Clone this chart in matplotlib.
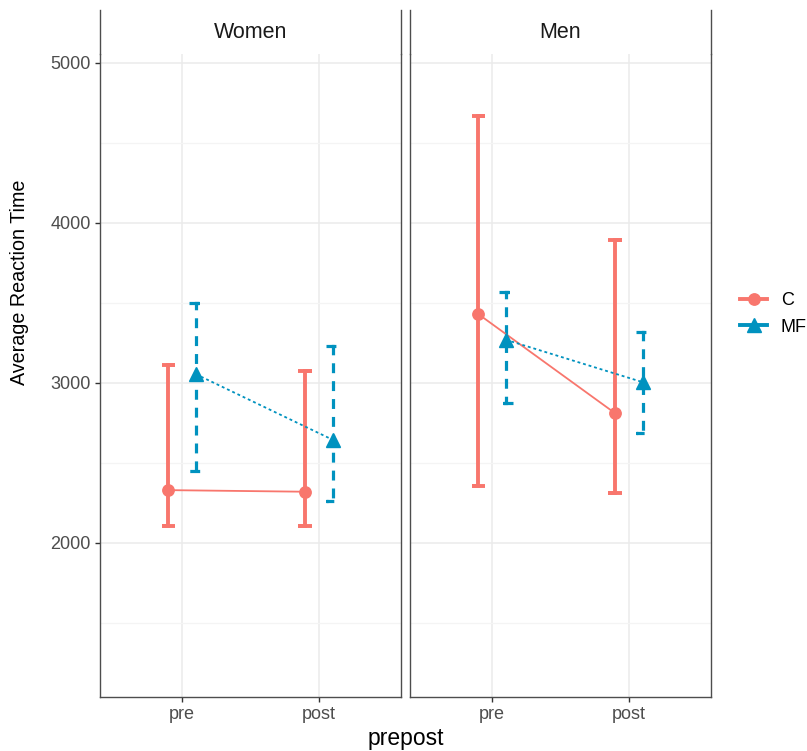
import numpy as np
import matplotlib
matplotlib.use("Agg")
import matplotlib.pyplot as plt
from matplotlib.lines import Line2D

plt.rcParams["font.family"] = ["Liberation Sans", "DejaVu Sans"]

# ── DATA ──────────────────────────────────────────────────────────────────────
panels = ["Women", "Men"]
timepoints = ["pre", "post"]
groups = ["C", "MF"]

# means and error bar limits, per panel -> per group -> [pre, post]
mean_women_c = [2330, 2320]
low_women_c = [2105, 2105]
high_women_c = [3110, 3075]
mean_women_mf = [3055, 2645]
low_women_mf = [2450, 2260]
high_women_mf = [3500, 3230]

mean_men_c = [3430, 2810]
low_men_c = [2355, 2310]
high_men_c = [4670, 3895]
mean_men_mf = [3270, 3005]
low_men_mf = [2875, 2690]
high_men_mf = [3570, 3320]

yticks = [2000, 3000, 4000, 5000]
yminor = [1500, 2500, 3500, 4500]

# ── STYLE ─────────────────────────────────────────────────────────────────────
COL = {"C": "#F8766D", "MF": "#0092BF"}
MARK = {"C": "o", "MF": "^"}
MSIZE = {"C": 8.2, "MF": 10}
DODGE = {"C": -0.1, "MF": 0.1}
BORDER = "#4D4D4D"
GRID = "#EBEBEB"

data = {
    "Women": {"C": (mean_women_c, low_women_c, high_women_c),
              "MF": (mean_women_mf, low_women_mf, high_women_mf)},
    "Men": {"C": (mean_men_c, low_men_c, high_men_c),
            "MF": (mean_men_mf, low_men_mf, high_men_mf)},
}

W, H = 807, 751
fig = plt.figure(figsize=(W / 100, H / 100), dpi=100)

lefts = [100, 410]
pw = 301
top, bottom, strip_top = 54, 697, 10


def draw_errorbar(ax, x, lo, hi, color, dashed):
    # path in the order ggplot draws it: top cap, down the stem, bottom cap
    hw = 0.05
    xs = [x - hw, x + hw, x, x, x - hw, x + hw]
    ys = [hi, hi, hi, lo, lo, lo]
    ln, = ax.plot(xs, ys, color=color, lw=2.3 if dashed else 2.8,
                  solid_capstyle="butt", solid_joinstyle="miter", zorder=3)
    if dashed:
        ln.set_linestyle((0, (3.1, 2.5)))
        ln.set_dash_capstyle("butt")
        ln.set_dash_joinstyle("miter")


for pi, panel in enumerate(panels):
    ax = fig.add_axes([lefts[pi] / W, 1 - bottom / H, pw / W, (bottom - top) / H])
    ax.set_xlim(0.4, 2.6)
    ax.set_ylim(1037, 5056)
    ax.set_xticks([1, 2])
    ax.set_xticklabels(timepoints)
    ax.set_yticks(yticks)
    ax.set_yticks(yminor, minor=True)
    ax.grid(True, which="major", color=GRID, lw=1.1)
    ax.grid(True, which="minor", axis="y", color="#F4F4F4", lw=0.9)
    ax.set_axisbelow(True)
    ax.spines["top"].set_visible(False)
    for sp in ax.spines.values():
        sp.set_color(BORDER)
        sp.set_linewidth(1.0)
    ax.tick_params(axis="both", which="major", length=3.5, width=1.0,
                   color="#333333", labelcolor="#4D4D4D", labelsize=13, pad=3)
    ax.tick_params(axis="y", which="minor", length=0)
    if pi != 0:
        ax.tick_params(axis="y", which="both", left=False, labelleft=False)

    for g in groups:
        mean, lo, hi = data[panel][g]
        xs = np.arange(1, len(timepoints) + 1) + DODGE[g]
        dashed = g == "MF"
        for x, l, h in zip(xs, lo, hi):
            draw_errorbar(ax, x, l, h, COL[g], dashed)
        ax.plot(xs, mean, color=COL[g], lw=1.3,
                ls=(0, (1.6, 1.6)) if dashed else "-", zorder=4)
        ax.plot(xs, mean, ls="none", marker=MARK[g], ms=MSIZE[g],
                color=COL[g], mec=COL[g], zorder=5)

    # facet strip
    sax = fig.add_axes([lefts[pi] / W, 1 - top / H, pw / W, (top - strip_top) / H])
    sax.set_xticks([])
    sax.set_yticks([])
    sax.spines["top"].set_visible(False)
    sax.spines["bottom"].set_visible(False)
    for s in ("left", "right"):
        sax.spines[s].set_color(BORDER)
        sax.spines[s].set_linewidth(1.0)
    sax.text(0.5, 0.5, panel, ha="center", va="center", fontsize=15.5,
             color="#1A1A1A", transform=sax.transAxes)

fig.text(406 / W, 1 - 738 / H, "prepost", ha="center", va="center", fontsize=16.5)
fig.text(20 / W, 1 - 282 / H, "Average Reaction Time", ha="center", va="center",
         rotation=90, fontsize=14.2)

handles = [
    Line2D([], [], color=COL[g], lw=2.8, marker=MARK[g], ms=MSIZE[g])
    for g in groups
]
fig.legend(handles, groups, loc="center left", bbox_to_anchor=(740 / W, 1 - 314 / H),
           frameon=False, fontsize=13, handlelength=1.5, handletextpad=0.75,
           labelspacing=0.5, borderpad=0, borderaxespad=0)

fig.savefig("out.png", dpi=100, facecolor="white")
